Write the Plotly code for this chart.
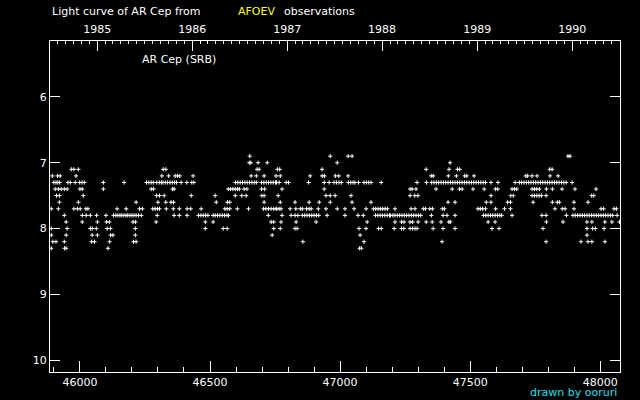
import datetime
import plotly.graph_objects as go

# AR Cep visual estimates (JD - 2400000) grouped by magnitude
jd_69 = [46653, 46962, 47031, 47046, 47876, 47884]
jd_70 = [46651, 46657, 46685, 46720, 46989, 47423]
jd_71 = [45967, 45977, 45994, 46320, 46330, 46681, 46689, 46759, 46768, 46931,
         47331, 47419, 47451, 47460, 47806, 47815]
jd_72 = [45894, 45914, 45924, 45985, 46315, 46341, 46366, 46375, 46384, 46435,
         46658, 46678, 46708, 46754, 46770, 46885, 46931, 46940, 46982, 46995,
         47031, 47350, 47358, 47416, 47447, 47479, 47487, 47515, 47714, 47721,
         47738, 47757, 47807, 47838]
jd_73 = [45900, 45908, 45915, 45922, 45954, 45963, 45982, 45999, 46008, 46017,
         46090, 46170, 46256, 46265, 46274, 46282, 46295, 46305, 46313, 46319,
         46328, 46337, 46346, 46355, 46364, 46371, 46389, 46411, 46430, 46438,
         46598, 46607, 46616, 46625, 46634, 46643, 46652, 46661, 46670, 46678,
         46698, 46707, 46716, 46725, 46734, 46743, 46752, 46756, 46766, 46793,
         46802, 46879, 46939, 46958, 46977, 46986, 46996, 47005, 47032, 47041,
         47050, 47057, 47071, 47092, 47101, 47110, 47119, 47158, 47296, 47332,
         47352, 47361, 47370, 47379, 47388, 47397, 47406, 47415, 47424, 47433,
         47442, 47451, 47460, 47469, 47478, 47487, 47496, 47505, 47514, 47523,
         47532, 47541, 47550, 47559, 47580, 47607, 47673, 47689, 47698, 47707,
         47716, 47725, 47734, 47743, 47752, 47761, 47770, 47779, 47788, 47797,
         47806, 47815, 47824, 47833, 47842, 47851, 47860, 47869, 47892]
jd_74 = [45905, 45917, 45928, 45940, 45951, 46000, 46009, 46090, 46274, 46283,
         46356, 46362, 46570, 46579, 46588, 46597, 46606, 46613, 46631, 46642,
         46698, 46710, 46777, 46939, 47269, 47277, 47292, 47369, 47431, 47459,
         47469, 47511, 47554, 47597, 47606, 47661, 47670, 47679, 47738, 47747,
         47756, 47766, 47793, 47816, 47853, 47903, 47984]
jd_75 = [45910, 45921, 46013, 46295, 46306, 46324, 46428, 46520, 46597, 46622,
         46639, 46699, 46708, 46762, 46946, 46962, 46981, 47042, 47269, 47287,
         47299, 47580, 47656, 47666, 47738, 47747, 47756, 47765, 47774, 47792,
         47967, 47975]
jd_76 = [45921, 45994, 46216, 46300, 46330, 46350, 46360, 46524, 46567, 46576,
         46708, 46770, 46827, 46881, 46920, 46962, 47046, 47119, 47415, 47442,
         47562, 47580, 47644, 47655, 47742, 47816, 47835, 47843, 47899, 47953]
jd_77 = [45890, 45917, 45977, 45990, 46001, 46023, 46031, 46143, 46178, 46229,
         46240, 46280, 46289, 46298, 46306, 46332, 46359, 46382, 46412, 46426,
         46466, 46557, 46566, 46576, 46605, 46648, 46706, 46715, 46725, 46735,
         46745, 46754, 46757, 46766, 46773, 46808, 46830, 46847, 46855, 46871,
         46881, 46889, 46916, 46946, 46989, 47019, 47054, 47100, 47128, 47137,
         47146, 47155, 47164, 47173, 47182, 47211, 47273, 47288, 47320, 47328,
         47345, 47355, 47393, 47401, 47530, 47539, 47548, 47559, 47598, 47632,
         47655, 47826, 47854, 47865, 47899, 48003, 48013, 48053, 48062]
jd_78 = [45940, 46009, 46024, 46040, 46064, 46100, 46129, 46138, 46146, 46154,
         46161, 46169, 46177, 46184, 46192, 46200, 46208, 46216, 46225, 46236,
         46297, 46362, 46382, 46412, 46456, 46465, 46474, 46483, 46492, 46512,
         46520, 46529, 46538, 46547, 46556, 46565, 46571, 46724, 46777, 46812,
         46827, 46838, 46855, 46864, 46873, 46882, 46891, 46900, 46909, 46918,
         46950, 47019, 47069, 47089, 47136, 47145, 47154, 47163, 47172, 47181,
         47190, 47194, 47203, 47211, 47220, 47229, 47238, 47247, 47256, 47265,
         47274, 47283, 47292, 47301, 47310, 47351, 47396, 47411, 47442, 47551,
         47560, 47569, 47578, 47587, 47596, 47605, 47614, 47621, 47661, 47776,
         47792, 47870, 47895, 47904, 47913, 47922, 47931, 47940, 47949, 47958,
         47967, 47976, 47985, 47994, 48003, 48012, 48021, 48030, 48039, 48048,
         48065]
jd_79 = [45947, 46009, 46067, 46102, 46113, 46204, 46214, 46293, 46482, 46512,
         46735, 46745, 46773, 46831, 46908, 47104, 47211, 47236, 47246, 47269,
         47279, 47300, 47331, 47354, 47388, 47418, 47424, 47569, 47596, 47793,
         47857, 47949, 47968, 48018, 48045, 48074]
jd_80 = [45890, 45951, 46040, 46047, 46063, 46105, 46117, 46213, 46482, 46551,
         46566, 46745, 46770, 46827, 46835, 47073, 47100, 47148, 47158, 47208,
         47236, 47245, 47269, 47279, 47288, 47296, 47358, 47396, 47442, 47584,
         47611, 47780, 47949, 47971, 47981, 48015]
jd_81 = [45890, 45947, 46047, 46067, 46118, 46127, 46213, 46739, 47077, 47949]
jd_82 = [45896, 45908, 45940, 46045, 46056, 46114, 46206, 46216, 46857, 47092,
         47392, 47792, 47926, 47953, 47968, 48018]
jd_83 = [45890, 45941, 45947, 46108, 47075, 47082]

row_mags = [6.9, 7.0, 7.1, 7.2, 7.3, 7.4, 7.5, 7.6, 7.7, 7.8, 7.9, 8.0, 8.1, 8.2, 8.3]
row_jds = [jd_69, jd_70, jd_71, jd_72, jd_73, jd_74, jd_75, jd_76, jd_77, jd_78,
           jd_79, jd_80, jd_81, jd_82, jd_83]

jd_ticks = [46000, 46500, 47000, 47500, 48000]
years = [1985, 1986, 1987, 1988, 1989, 1990]
mag_ticks = [6, 7, 8, 9, 10]


def to_jd(d):
    # JD - 2400000 at 0h UT
    return (d - datetime.date(1970, 1, 1)).days + 40587.5


xs, ys = [], []
for m, jds in zip(row_mags, row_jds):
    xs += jds
    ys += [m] * len(jds)

year_vals = [to_jd(datetime.date(y, 1, 1)) for y in years]
month_vals = [to_jd(datetime.date(y, mo, 1)) for y in range(1984, 1991) for mo in range(1, 13)]

x_range = [45885, 48076]
font = dict(family="DejaVu Sans", size=11, color="white")

fig = go.Figure()
fig.add_trace(go.Scatter(
    x=xs, y=ys, mode="markers",
    marker=dict(symbol="cross-thin", size=3, line=dict(color="white", width=1)),
    cliponaxis=True, showlegend=False, hoverinfo="x+y"
))
# dummy trace so the top (year) axis is drawn
fig.add_trace(go.Scatter(x=x_range, y=[None, None], xaxis="x2", showlegend=False,
                         hoverinfo="skip"))

axis_common = dict(showgrid=False, zeroline=False, showline=True, linecolor="white",
                   linewidth=1, ticks="inside", tickcolor="white", tickwidth=1,
                   tickfont=font, automargin=False)

fig.update_layout(
    width=640, height=400,
    paper_bgcolor="black", plot_bgcolor="black",
    margin=dict(l=50, r=20, t=41, b=28),
    xaxis=dict(range=x_range, tickvals=jd_ticks, ticktext=[str(v) for v in jd_ticks],
               ticklen=11,
               minor=dict(dtick=100, tick0=46000, ticklen=5, ticks="inside",
                          tickcolor="white"),
               **axis_common),
    xaxis2=dict(range=x_range, overlaying="x", side="top", tickvals=year_vals,
                ticktext=[str(y) for y in years], ticklen=10, ticklabelstandoff=3,
                minor=dict(tickvals=month_vals, ticklen=3, ticks="inside",
                           tickcolor="white"),
                **axis_common),
    yaxis=dict(range=[10.18, 5.15], tickvals=mag_ticks, ticklen=10, mirror="ticks",
               **axis_common),
    annotations=[
        dict(text="Light curve of AR Cep from", x=0.0, y=1.088, xref="paper", yref="paper",
             xanchor="left", yanchor="middle", showarrow=False, font=font),
        dict(text="AFOEV", x=(236 - 50) / 570, y=1.088, xref="paper", yref="paper",
             xanchor="left", yanchor="middle", showarrow=False,
             font=dict(family="DejaVu Sans", size=11, color="yellow")),
        dict(text="observations", x=(282 - 50) / 570, y=1.088, xref="paper", yref="paper",
             xanchor="left", yanchor="middle", showarrow=False, font=font),
        dict(text="AR Cep (SRB)", x=(140 - 50) / 570, y=(372 - 60) / 331, xref="paper",
             yref="paper", xanchor="left", yanchor="middle", showarrow=False, font=font),
        dict(text="drawn by ooruri", x=(619 - 50) / 570, y=(372 - 392) / 331, xref="paper",
             yref="paper", xanchor="right", yanchor="middle", showarrow=False,
             font=dict(family="DejaVu Sans", size=11, color="#1ee0f0")),
    ],
)

# drop the default body margin so the 640x400 figure sits at the window origin
fig.write_html("out.html", config={"displayModeBar": False},
               post_script="document.body.style.margin='0';")
